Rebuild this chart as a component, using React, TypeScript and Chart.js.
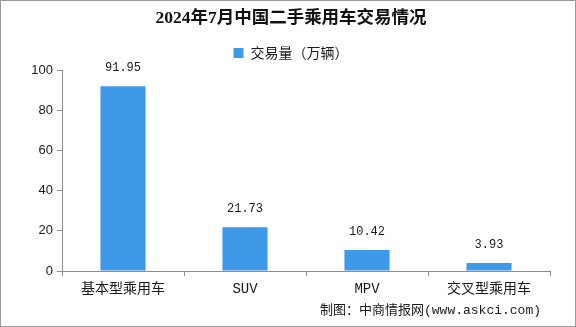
import React, { useEffect, useRef } from "react";
import { Chart, registerables } from "chart.js";

Chart.register(...registerables);

const TITLE = "2024年7月中国二手乘用车交易情况";
const SERIES_LABEL = "交易量（万辆）";
const CATEGORIES = ["基本型乘用车", "SUV", "MPV", "交叉型乘用车"];
const VOLUMES = [91.95, 21.73, 10.42, 3.93];
const Y_MIN = 0;
const Y_MAX = 100;
const Y_STEP = 20;
const SOURCE = "制图：中商情报网(www.askci.com)";

const BAR_COLOR = "#3e9ae9";
const AXIS_COLOR = "#8c8c8c";
const TEXT_COLOR = "#1a1a1a";
const CJK = "'Noto Sans CJK SC'";

const decorPlugin = {
  id: "decor",
  afterDatasetsDraw(chart: any) {
    const ctx = chart.ctx;
    const meta = chart.getDatasetMeta(0);
    ctx.save();
    ctx.fillStyle = TEXT_COLOR;
    ctx.font = `12px 'Liberation Mono', ${CJK}`;
    ctx.textAlign = "center";
    ctx.textBaseline = "bottom";
    meta.data.forEach((bar: any, i: number) => {
      ctx.fillText(VOLUMES[i].toFixed(2), bar.x, bar.y - 12);
    });
    ctx.restore();
  },
  afterDraw(chart: any) {
    const ctx = chart.ctx;
    ctx.save();
    ctx.fillStyle = TEXT_COLOR;
    ctx.font = `13px 'Liberation Mono', ${CJK}`;
    ctx.textAlign = "right";
    ctx.textBaseline = "middle";
    ctx.fillText(SOURCE, 541, 311);
    ctx.strokeStyle = "#9a9a9a";
    ctx.lineWidth = 1;
    ctx.strokeRect(0.5, 0.5, chart.width - 1, chart.height - 1);
    ctx.restore();
  },
};

export default function App() {
  const ref = useRef<HTMLCanvasElement | null>(null);

  useEffect(() => {
    document.body.style.margin = "0";
    const canvas = ref.current;
    if (!canvas) return;
    const chart = new Chart(canvas, {
      type: "bar",
      data: {
        labels: CATEGORIES,
        datasets: [
          {
            label: SERIES_LABEL,
            data: VOLUMES,
            backgroundColor: BAR_COLOR,
            borderWidth: 0,
            barPercentage: 0.37,
            categoryPercentage: 1,
          },
        ],
      },
      options: {
        animation: false,
        responsive: false,
        maintainAspectRatio: false,
        layout: { padding: { left: 6, right: 0, top: 0, bottom: 0 } },
        plugins: {
          title: {
            display: true,
            text: TITLE,
            color: "#111",
            font: { family: `'Liberation Serif', ${CJK}`, size: 17.5, weight: "bold", lineHeight: 1.2 },
            padding: { top: 8, bottom: 9 },
          },
          legend: {
            display: true,
            labels: {
              color: TEXT_COLOR,
              font: { family: CJK, size: 14 },
              boxWidth: 10,
              boxHeight: 10,
              padding: 8,
            },
          },
          tooltip: { enabled: false },
        },
        scales: {
          x: {
            offset: true,
            grid: {
              display: true,
              offset: true,
              drawOnChartArea: false,
              drawTicks: true,
              tickLength: 5,
              color: AXIS_COLOR,
            },
            border: { display: true, color: AXIS_COLOR },
            ticks: {
              color: TEXT_COLOR,
              font: { family: `'Liberation Mono', ${CJK}`, size: 14 },
              padding: 5,
              maxRotation: 0,
              autoSkip: false,
            },
            afterFit(scale: any) {
              scale.height = 56;
            },
          },
          y: {
            min: Y_MIN,
            max: Y_MAX,
            grid: {
              display: true,
              drawOnChartArea: false,
              drawTicks: true,
              tickLength: 5,
              color: AXIS_COLOR,
            },
            border: { display: true, color: AXIS_COLOR },
            ticks: {
              stepSize: Y_STEP,
              color: TEXT_COLOR,
              font: { family: "'Liberation Sans'", size: 13 },
              padding: 4,
            },
            afterFit(scale: any) {
              scale.width = 56;
            },
          },
          yRight: {
            position: "right",
            display: true,
            min: Y_MIN,
            max: Y_MAX,
            grid: { display: false },
            border: { display: false },
            ticks: { display: false },
            afterFit(scale: any) {
              scale.width = 26;
            },
          },
        },
      },
      plugins: [decorPlugin],
    });
    return () => chart.destroy();
  }, []);

  return (
    <div style={{ position: "absolute", left: 0, top: 0, width: 576, height: 327, background: "#fff" }}>
      <canvas ref={ref} width={576} height={327} style={{ width: 576, height: 327, display: "block" }} />
    </div>
  );
}
